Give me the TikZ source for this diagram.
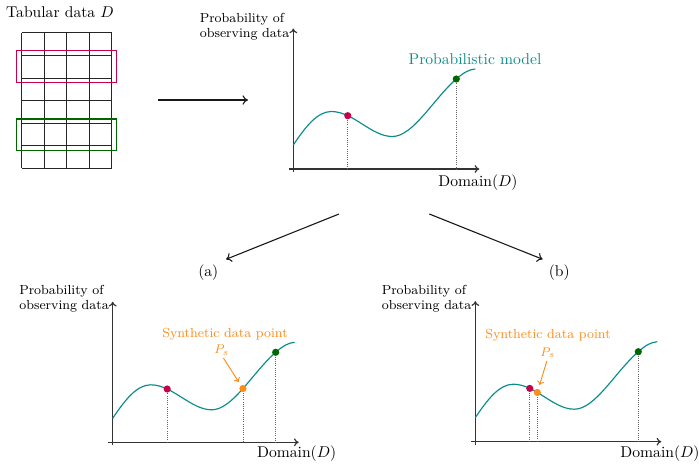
\documentclass[tikz,border=0pt]{standalone}
\usetikzlibrary{arrows.meta}
\definecolor{dotred}{rgb}{0.78,0,0.29}
\definecolor{dotgreen}{rgb}{0,0.4,0}
\definecolor{synorange}{rgb}{1,0.55,0.1}
\definecolor{curveteal}{rgb}{0.05,0.55,0.55}
\tikzset{
  gridline/.style={black!85, line width=0.5pt},
  axisline/.style={black!80, line width=0.75pt, -{To[length=3pt,width=5pt]}},
  flowarrow/.style={black!90, line width=0.7pt, -{To[length=3.5pt,width=6pt]}},
  modelcurve/.style={curveteal, line width=0.75pt},
  dropline/.style={black!60, densely dotted, line width=0.4pt},
  smalltext/.style={font=\fontsize{8.4}{9.6}\selectfont, inner sep=0pt},
  syntext/.style={font=\fontsize{8.4}{9.6}\selectfont, text=synorange, inner sep=0pt},
  mainlabel/.style={font=\normalsize, inner sep=0pt},
  pointer/.style={synorange, line width=0.6pt, -{To[length=2.5pt,width=4.5pt]}, shorten >=5pt, shorten <=2pt},
  model/.pic={
    \begin{scope}[x=0.64pt, y=0.64pt]
    \coordinate (-o) at (0,0);
    \draw[axisline] (-4.5,0) -- (186,0);
    \draw[axisline] (0,-3) -- (0,140.5);
    \draw[modelcurve] (0,24) .. controls (12,42) and (24,57.5) .. (38,57.5)
      .. controls (60,57.5) and (78,32.5) .. (99,32.5)
         coordinate[pos=0.26] (-r) coordinate[pos=0.385] (-ob)
      .. controls (120,32.5) and (140,70) .. (163,90)
         coordinate[pos=0.5] (-oa) coordinate (-g)
      .. controls (171,97) and (176,99.5) .. (182,100);
    \end{scope}
  },
}
\begin{document}
\begin{tikzpicture}[x=0.64pt,y=-0.64pt]
\useasboundingbox (0,0) rectangle (699,466);

% ---- table ----
\node[mainlabel] (title) at (60,12) {Tabular data $D$};
\foreach \i in {0,...,4} {
  \draw[gridline] ({21.7+22.5*\i},32.7) -- ({21.7+22.5*\i},168.3);
}
\foreach \j in {0,...,6} {
  \draw[gridline] (21.7,{32.7+22.6*\j}) -- (111.7,{32.7+22.6*\j});
}
\draw[dotred, line width=0.7pt] (16.7,50.7) rectangle (116.7,82.3);
\draw[dotgreen, line width=0.7pt] (16.7,119) rectangle (116.7,150.7);

\coordinate (tabout) at (158,100);
\coordinate (modin) at (248,100);
\draw[flowarrow] (tabout) -- (modin);

% ---- top plot ----
\pic (t) at (293.3,169) {model};
\draw[dropline] (t-r) -- (t-r |- t-o);
\draw[dropline] (t-g) -- (t-g |- t-o);
\fill[dotred] (t-r) circle (3.6);
\fill[dotgreen] (t-g) circle (3.6);
\node[smalltext, anchor=west, align=left] (ylab1) at (199.5,27) {Probability of\\observing data};
\node[mainlabel, text=curveteal] (pm) at (475,59) {Probabilistic model};
\node[mainlabel] (dom1) at (478,183) {Domain$(D)$};

% ---- split arrows ----
\coordinate (splitl) at (339,214);
\coordinate (splitr) at (429.3,214);
\coordinate (enda) at (226,259.3);
\coordinate (endb) at (542.7,259.3);
\draw[flowarrow] (splitl) -- (enda);
\draw[flowarrow] (splitr) -- (endb);
\node[mainlabel] (la) at (208.3,273) {(a)};
\node[mainlabel] (lb) at (559.3,273) {(b)};

% ---- plot (a) ----
\pic (a) at (112.7,442.3) {model};
\draw[dropline] (a-r) -- (a-r |- a-o);
\draw[dropline] (a-oa) -- (a-oa |- a-o);
\draw[dropline] (a-g) -- (a-g |- a-o);
\fill[dotred] (a-r) circle (3.6);
\fill[dotgreen] (a-g) circle (3.6);
\fill[synorange] (a-oa) circle (3.6);
\node[smalltext, anchor=west, align=left] (ylab2) at (19,299) {Probability of\\observing data};
\node[syntext] (syna) at (225,334) {Synthetic data point};
\node[syntext] (psa) at (221.7,350) {$P_s$};
\draw[pointer] (psa.south) -- (a-oa);
\node[mainlabel] (dom2) at (296.7,453.3) {Domain$(D)$};

% ---- plot (b) ----
\pic (b) at (475.3,441.7) {model};
\draw[dropline] (b-r) -- (b-r |- b-o);
\draw[dropline] (b-ob) -- (b-ob |- b-o);
\draw[dropline] (b-g) -- (b-g |- b-o);
\fill[dotred] (b-r) circle (3.6);
\fill[dotgreen] (b-g) circle (3.6);
\fill[synorange] (b-ob) circle (3.6);
\node[smalltext, anchor=west, align=left] (ylab3) at (381.5,299) {Probability of\\observing data};
\node[syntext] (synb) at (548,335.7) {Synthetic data point};
\node[syntext] (psb) at (547.7,352.7) {$P_s$};
\draw[pointer] (psb.south) -- (b-ob);
\node[mainlabel] (dom3) at (660,453.3) {Domain$(D)$};
\end{tikzpicture}
\end{document}
